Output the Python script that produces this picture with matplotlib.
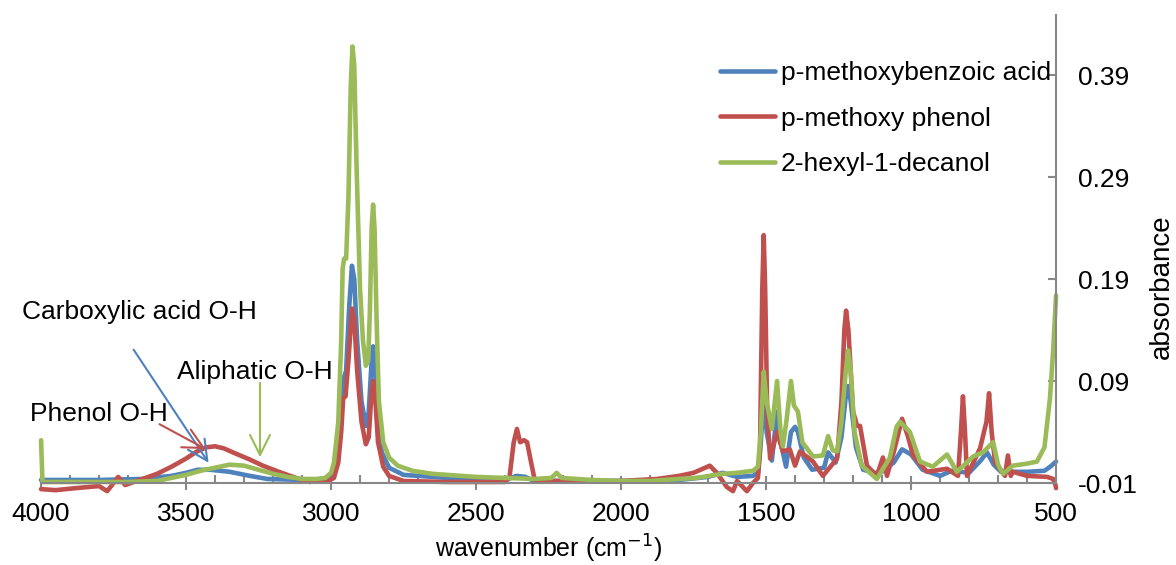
import matplotlib
matplotlib.use("Agg")
import matplotlib.pyplot as plt
from matplotlib.ticker import MultipleLocator, FixedLocator, FuncFormatter

plt.rcParams["font.family"] = ["Liberation Sans", "DejaVu Sans"]

# FTIR spectra: wavenumber (cm-1) and absorbance for each compound
acid_wn = [4000, 3800, 3650, 3550, 3500, 3460, 3417, 3350, 3280, 3220, 3100, 3020,
           3000, 2985, 2970, 2962, 2955, 2948, 2938, 2928, 2920, 2910, 2895, 2880,
           2870, 2860, 2855, 2848, 2840, 2825, 2800, 2750, 2600, 2400, 2360, 2330,
           2300, 2000, 1800, 1700, 1650, 1600, 1545, 1528, 1518, 1508, 1498, 1480,
           1462, 1450, 1431, 1414, 1400, 1390, 1370, 1341, 1300, 1286, 1260, 1240,
           1225, 1217, 1208, 1190, 1165, 1110, 1060, 1031, 1000, 960, 900, 860,
           800, 760, 738, 715, 690, 600, 540, 520, 500]
acid_abs = [-0.007, -0.007, -0.006, -0.003, 0.0, 0.003, 0.003, 0.001, -0.003, -0.006, -0.007, -0.006,
            -0.003, 0.01, 0.04, 0.085, 0.094, 0.10, 0.16, 0.203, 0.19, 0.13, 0.07, 0.046,
            0.06, 0.11, 0.124, 0.10, 0.05, 0.02, 0.005, -0.002, -0.005, -0.007, -0.003, -0.004,
            -0.008, -0.008, -0.007, -0.004, 0.0, -0.004, -0.003, 0.0, 0.03, 0.075, 0.04, 0.012,
            0.06, 0.03, 0.006, 0.04, 0.045, 0.04, 0.015, 0.003, 0.005, 0.02, 0.01, 0.035,
            0.075, 0.085, 0.07, 0.025, 0.003, -0.001, 0.01, 0.023, 0.018, 0.003, -0.003, 0.002,
            0.0, 0.012, 0.02, 0.008, 0.001, 0.001, 0.002, 0.006, 0.011]

phenol_wn = [4000, 3950, 3880, 3800, 3772, 3750, 3734, 3710, 3650, 3600, 3550, 3500,
             3462, 3430, 3400, 3370, 3330, 3280, 3235, 3180, 3141, 3100, 3072, 3040,
             3010, 2990, 2975, 2965, 2958, 2950, 2940, 2928, 2920, 2910, 2895, 2880,
             2870, 2860, 2855, 2848, 2838, 2820, 2800, 2750, 2600, 2400, 2385, 2370,
             2359, 2348, 2335, 2324, 2310, 2297, 2200, 2000, 1876, 1800, 1750, 1694,
             1670, 1635, 1614, 1600, 1566, 1545, 1528, 1521, 1513, 1508, 1503, 1496,
             1486, 1462, 1442, 1418, 1400, 1383, 1338, 1304, 1255, 1240, 1230, 1224,
             1216, 1200, 1186, 1176, 1152, 1118, 1097, 1083, 1060, 1031, 1010, 993,
             945, 876, 838, 828, 821, 814, 807, 762, 740, 731, 722, 710,
             676, 666, 656, 649, 600, 531, 510, 502, 500]
phenol_abs = [-0.016, -0.017, -0.015, -0.013, -0.018, -0.01, -0.004, -0.012, -0.006, -0.001, 0.006, 0.014,
              0.021, 0.025, 0.026, 0.024, 0.019, 0.013, 0.007, 0.001, -0.003, -0.007, -0.009, -0.007,
              -0.008, -0.005, 0.01, 0.04, 0.073, 0.075, 0.11, 0.161, 0.15, 0.10, 0.05, 0.028,
              0.035, 0.08, 0.09, 0.075, 0.03, 0.006, -0.003, -0.008, -0.009, -0.009, -0.005, 0.03,
              0.043, 0.03, 0.032, 0.030, 0.01, -0.008, -0.008, -0.008, -0.006, -0.003, 0.0, 0.007,
              0.0, -0.014, -0.018, -0.008, -0.018, -0.01, -0.005, 0.02, 0.18, 0.233, 0.18, 0.06,
              0.014, 0.040, 0.021, 0.023, 0.007, 0.021, 0.011, -0.003, 0.014, 0.07, 0.14, 0.159,
              0.14, 0.06, 0.046, 0.046, 0.007, -0.003, 0.015, -0.003, 0.02, 0.053, 0.035, 0.017,
              0.001, 0.004, -0.003, 0.04, 0.075, 0.04, -0.003, 0.024, 0.05, 0.078, 0.04, 0.01,
              -0.003, 0.017, -0.003, 0.001, -0.003, -0.004, -0.006, -0.012, -0.015]

decanol_wn = [4000, 3995, 3900, 3800, 3700, 3600, 3550, 3500, 3450, 3400, 3350, 3300,
              3250, 3200, 3150, 3100, 3050, 3020, 3000, 2990, 2975, 2965, 2960, 2955,
              2948, 2940, 2932, 2926, 2920, 2912, 2900, 2890, 2880, 2872, 2866, 2860,
              2855, 2850, 2843, 2835, 2820, 2800, 2770, 2720, 2650, 2500, 2400, 2300,
              2240, 2222, 2205, 2100, 2000, 1900, 1800, 1740, 1650, 1600, 1545, 1528,
              1518, 1508, 1498, 1480, 1462, 1450, 1442, 1430, 1414, 1404, 1390, 1375,
              1338, 1304, 1286, 1270, 1255, 1240, 1225, 1217, 1208, 1195, 1170, 1118,
              1073, 1050, 1038, 1004, 969, 925, 876, 842, 786, 752, 717, 700,
              683, 649, 600, 566, 540, 521, 510, 500]
decanol_abs = [0.032, -0.009, -0.009, -0.009, -0.009, -0.008, -0.005, -0.002, 0.002, 0.005, 0.008, 0.007,
               0.003, -0.001, -0.004, -0.006, -0.006, -0.005, 0.0, 0.01, 0.05, 0.13, 0.20, 0.21,
               0.21, 0.27, 0.38, 0.418, 0.40, 0.30, 0.18, 0.13, 0.105, 0.11, 0.16, 0.24,
               0.263, 0.24, 0.15, 0.07, 0.03, 0.015, 0.007, 0.002, -0.001, -0.004, -0.005, -0.006,
               -0.005, 0.0, -0.005, -0.007, -0.008, -0.008, -0.006, -0.005, -0.001, 0.0, 0.002, 0.006,
               0.04, 0.099, 0.07, 0.043, 0.090, 0.04, 0.026, 0.05, 0.090, 0.066, 0.06, 0.03,
               0.016, 0.017, 0.036, 0.022, 0.021, 0.05, 0.10, 0.12, 0.10, 0.04, 0.007, -0.006,
               0.015, 0.045, 0.050, 0.040, 0.011, 0.006, 0.018, 0.001, 0.016, 0.020, 0.030, 0.008,
               -0.001, 0.007, 0.009, 0.011, 0.025, 0.073, 0.12, 0.174]

series_names = ["p-methoxybenzoic acid", "p-methoxy phenol", "2-hexyl-1-decanol"]
colors = ["#4F81BD", "#C0504D", "#9BBB59"]
y_ticks = [-0.01, 0.09, 0.19, 0.29, 0.39]

fig = plt.figure(figsize=(11.76, 5.65), dpi=100)
ax = fig.add_axes([0.0349, 0.1451, 0.8631, 0.8283])

for wn, ab, name, c in zip([acid_wn, phenol_wn, decanol_wn],
                           [acid_abs, phenol_abs, decanol_abs], series_names, colors):
    ax.plot(wn, ab, color=c, lw=3.3, label=name, clip_on=False,
            solid_joinstyle="round", solid_capstyle="round")

ax.set_xlim(4000, 500)
ax.set_ylim(-0.01, 0.4488)

# only the bottom and right spines, in grey
axis_grey = "#888888"
for side in ["top", "left"]:
    ax.spines[side].set_visible(False)
for side in ["bottom", "right"]:
    ax.spines[side].set_color(axis_grey)
    ax.spines[side].set_linewidth(1.5)

ax.yaxis.tick_right()
ax.yaxis.set_label_position("right")
ax.xaxis.set_major_locator(MultipleLocator(500))
ax.xaxis.set_minor_locator(MultipleLocator(100))
ax.yaxis.set_major_locator(FixedLocator(y_ticks))
ax.yaxis.set_major_formatter(FuncFormatter(lambda v, p: f"{v:.2f}"))
ax.tick_params(axis="x", which="major", direction="inout", length=10, width=1.5,
               color=axis_grey, labelsize=19, pad=9)
ax.tick_params(axis="x", which="minor", direction="in", length=6, width=1.5, color=axis_grey)
ax.tick_params(axis="y", which="major", direction="in", length=6, width=1.5,
               color=axis_grey, labelsize=19, pad=16)

ax.set_xlabel("wavenumber (cm$^{-1}$)", fontsize=18, labelpad=4.5)
ax.set_ylabel("absorbance", fontsize=20, labelpad=8)
ax.yaxis.label.set_y(0.42)

ax.legend(loc="upper left", bbox_to_anchor=(720 / 1176, 1 - 61 / 565),
          bbox_transform=fig.transFigure, frameon=False, fontsize=19,
          handlelength=2.1, handletextpad=0.2, labelspacing=0.82,
          borderpad=0, borderaxespad=0)

# O-H band assignments
arrow_kw = dict(arrowstyle="->", lw=1.5, mutation_scale=36)
ax.annotate("", xy=(3417, 0.0076), xytext=(3686, 0.123),
            arrowprops=dict(color=colors[0], **arrow_kw))
ax.annotate("", xy=(3245, 0.0125), xytext=(3245, 0.091),
            arrowprops=dict(color=colors[2], **arrow_kw))
ax.annotate("", xy=(3424, 0.022), xytext=(3600, 0.049),
            arrowprops=dict(color=colors[1], **arrow_kw))
ax.text(4066, 0.158, "Carboxylic acid O-H", fontsize=19, va="center", ha="left", clip_on=False)
ax.text(3531, 0.099, "Aliphatic O-H", fontsize=19, va="center", ha="left")
ax.text(4038, 0.0576, "Phenol O-H", fontsize=19, va="center", ha="left", clip_on=False)

fig.savefig("out.png", dpi=100)
